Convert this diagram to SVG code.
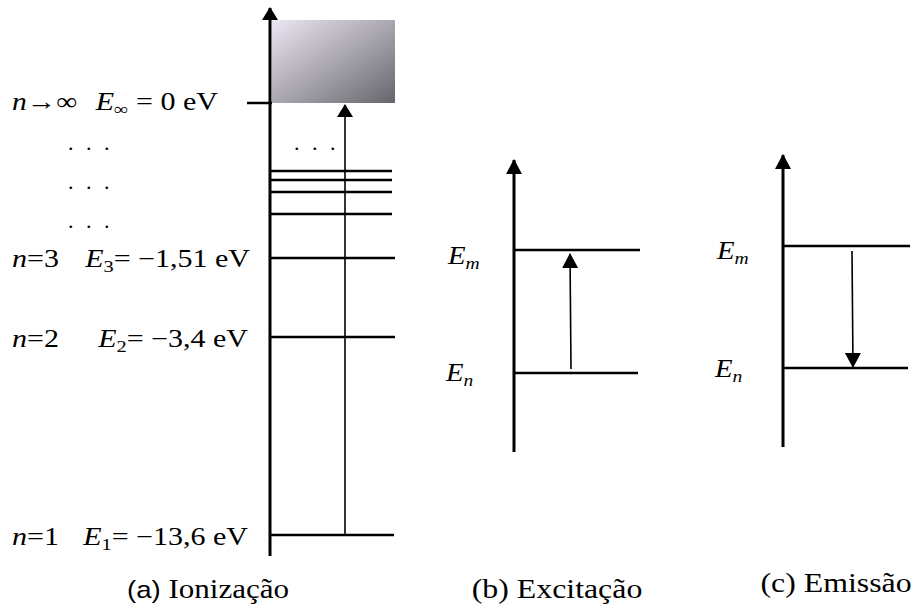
<svg xmlns="http://www.w3.org/2000/svg" width="912" height="610" viewBox="0 0 912 610">
<style>
text{font-family:'Liberation Serif','Times New Roman',serif;fill:#000}
.t{font-size:25px}
.i{font-style:italic}
.sub{font-size:17px}
.cap{font-size:27px}
.axis{stroke:#000;stroke-width:3;fill:none}
.lvl{stroke:#000;stroke-width:2.5;fill:none}
.arr{stroke:#000;stroke-width:1.6;fill:none}
.dots{font-size:22px}
</style>
<defs>
<linearGradient id="g" x1="0" y1="0" x2="1" y2="1">
<stop offset="0" stop-color="#ebe7f3"/>
<stop offset="0.5" stop-color="#aaa7b0"/>
<stop offset="1" stop-color="#67656c"/>
</linearGradient>
<marker id="ah" markerWidth="15" markerHeight="16" refX="14" refY="8" orient="auto" markerUnits="userSpaceOnUse">
<path d="M0,0 L15,8 L0,16 Z" fill="#000"/>
</marker>
<marker id="ahs" markerWidth="13" markerHeight="16" refX="12" refY="8" orient="auto" markerUnits="userSpaceOnUse">
<path d="M0,0 L13,8 L0,16 Z" fill="#000"/>
</marker>
</defs>

<g id="panel-a">
<rect id="continuum" x="272" y="20" width="123" height="83" fill="url(#g)"/>
<line class="axis" x1="270" y1="556" x2="270" y2="8" marker-end="url(#ahs)"/>
<line class="lvl" x1="247" y1="103" x2="272" y2="103"/>
<line class="lvl" x1="270" y1="171" x2="392" y2="171"/>
<line class="lvl" x1="270" y1="180" x2="392" y2="180"/>
<line class="lvl" x1="270" y1="192" x2="392" y2="192"/>
<line class="lvl" x1="270" y1="214" x2="392" y2="214"/>
<line class="lvl" x1="270" y1="258" x2="395" y2="258"/>
<line class="lvl" x1="270" y1="337" x2="395" y2="337"/>
<line class="lvl" x1="270" y1="535" x2="394" y2="535"/>
<text class="dots" x="294 312 330" y="150">...</text>
<text class="dots" x="68 86 104" y="150">...</text>
<text class="dots" x="68 86 104" y="189">...</text>
<text class="dots" x="68 86 104" y="228">...</text>
<text class="t" transform="translate(12,110) scale(1.18,1)"><tspan class="i">n</tspan>→∞</text>
<text class="t" transform="translate(218,110) scale(1.2,1)" text-anchor="end"><tspan class="i">E</tspan><tspan class="sub" dy="5">∞</tspan><tspan dy="-5"> = 0 eV</tspan></text>
<text class="t" transform="translate(12,267) scale(1.2,1)"><tspan class="i">n</tspan>=3</text>
<text class="t" transform="translate(250,267) scale(1.2,1)" text-anchor="end"><tspan class="i">E</tspan><tspan class="sub" dy="5">3</tspan><tspan dy="-5">= −1,51 eV</tspan></text>
<text class="t" transform="translate(12,347) scale(1.2,1)"><tspan class="i">n</tspan>=2</text>
<text class="t" transform="translate(248,347) scale(1.2,1)" text-anchor="end"><tspan class="i">E</tspan><tspan class="sub" dy="5">2</tspan><tspan dy="-5">= −3,4 eV</tspan></text>
<text class="t" transform="translate(12,545) scale(1.2,1)"><tspan class="i">n</tspan>=1</text>
<text class="t" transform="translate(248,545) scale(1.2,1)" text-anchor="end"><tspan class="i">E</tspan><tspan class="sub" dy="5">1</tspan><tspan dy="-5">= −13,6 eV</tspan></text>
<text class="cap" transform="translate(208,598) scale(1.15,1)" text-anchor="middle"><tspan style="font-family:'Liberation Sans',Arial,sans-serif" font-size="24">(a)</tspan> Ionização</text>
</g>

<g id="panel-b">
<line class="axis" x1="514" y1="452" x2="514" y2="160" marker-end="url(#ah)"/>
<line class="lvl" x1="514" y1="250" x2="640" y2="250"/>
<line class="lvl" x1="514" y1="373" x2="638" y2="373"/>
<text class="t" transform="translate(448,264) scale(1.15,1)"><tspan class="i">E</tspan><tspan class="sub i" dy="5">m</tspan></text>
<text class="t" transform="translate(446,381) scale(1.15,1)"><tspan class="i">E</tspan><tspan class="sub i" dy="5">n</tspan></text>
<text class="cap" transform="translate(557,598) scale(1.18,1)" text-anchor="middle">(b) Excitação</text>
</g>

<g id="panel-c">
<line class="axis" x1="783" y1="447" x2="783" y2="155" marker-end="url(#ah)"/>
<line class="lvl" x1="783" y1="246" x2="910" y2="246"/>
<line class="lvl" x1="783" y1="368" x2="908" y2="368"/>
<text class="t" transform="translate(717,259) scale(1.15,1)"><tspan class="i">E</tspan><tspan class="sub i" dy="5">m</tspan></text>
<text class="t" transform="translate(715,377) scale(1.15,1)"><tspan class="i">E</tspan><tspan class="sub i" dy="5">n</tspan></text>
<text class="cap" transform="translate(836,592) scale(1.18,1)" text-anchor="middle">(c) Emissão</text>
</g>

<g id="connectors">
<line class="arr" x1="345" y1="535" x2="345" y2="105" marker-end="url(#ahs)"/>
<line class="arr" x1="571" y1="369" x2="570" y2="254" marker-end="url(#ah)"/>
<line class="arr" x1="852" y1="251" x2="853" y2="367" marker-end="url(#ah)"/>
</g>
</svg>
